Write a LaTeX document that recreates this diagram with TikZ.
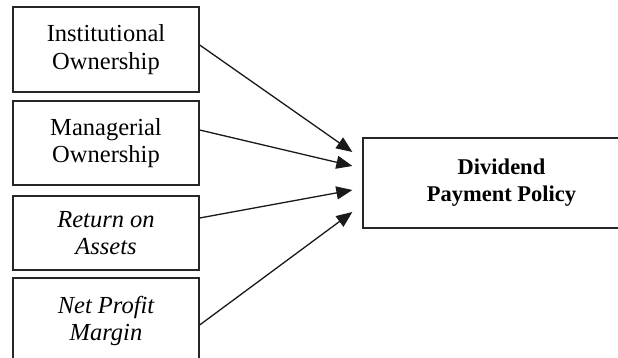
\documentclass[tikz,border=0pt]{standalone}
\usepackage{fontspec}
\setmainfont{Liberation Serif}
\usetikzlibrary{arrows.meta}
\begin{document}
\begin{tikzpicture}[x=1pt,y=1pt,
  box/.style={draw=black!85, line width=1.3pt, inner sep=0pt, align=center,
    font=\fontsize{24.5}{27.5}\selectfont},
  conn/.style={draw=black!90, line width=1.3pt, -{Triangle[length=16pt,width=13pt]}}]
\useasboundingbox (0,0) rectangle (618,358);
\clip (0,0) rectangle (618,358);
\fill[white] (0,0) rectangle (618,358);
\node[box, minimum width=186pt, minimum height=85pt] (b1) at (106,308.5) {Institutional\\Ownership};
\node[box, minimum width=186pt, minimum height=84pt] (b2) at (106,215) {Managerial\\Ownership};
\node[box, minimum width=186pt, minimum height=74pt] (b3) at (106,125) {\itshape Return on\\\itshape Assets};
\node[box, minimum width=186pt, minimum height=86pt] (b4) at (106,37) {\itshape Net Profit\\\itshape Margin};
\node[box, minimum width=277pt, minimum height=90pt, font=\fontsize{22.5}{27}\selectfont\bfseries] (dpp) at (501.5,175) {Dividend\\Payment Policy};
\coordinate (t1) at ([xshift=-10pt,yshift=31pt]dpp.west);
\coordinate (t2) at ([xshift=-10pt,yshift=17pt]dpp.west);
\coordinate (t3) at ([xshift=-10pt,yshift=-7pt]dpp.west);
\coordinate (t4) at ([xshift=-10pt,yshift=-29pt]dpp.west);
\draw[conn] ([yshift=4.5pt]b1.east) -- (t1);
\draw[conn] ([yshift=13pt]b2.east) -- (t2);
\draw[conn] ([yshift=15pt]b3.east) -- (t3);
\draw[conn] ([yshift=-4pt]b4.east) -- (t4);
\end{tikzpicture}
\end{document}
